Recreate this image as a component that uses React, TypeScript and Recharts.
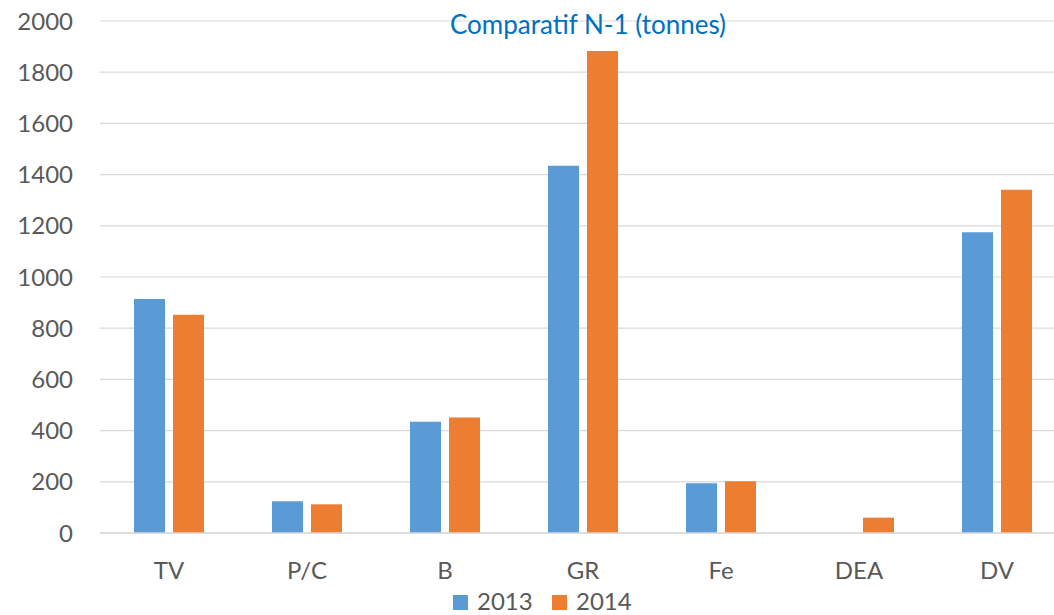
import React from 'react';
import { BarChart, Bar, XAxis, YAxis, CartesianGrid, Legend } from 'recharts';

const categories = ['TV', 'P/C', 'B', 'GR', 'Fe', 'DEA', 'DV'];
const values2013 = [914, 124, 435, 1435, 194, 0, 1175];
const values2014 = [853, 112, 451, 1883, 202, 60, 1341];
const yTicks = [0, 200, 400, 600, 800, 1000, 1200, 1400, 1600, 1800, 2000];
const seriesNames = ['2013', '2014'];
const seriesColors = ['#5B9BD5', '#ED7D31'];
const title = 'Comparatif N-1 (tonnes)';

const data = categories.map((c, i) => ({ name: c, y2013: values2013[i], y2014: values2014[i] }));

const FONT = 'Lato, sans-serif';
const TEXT = '#595959';

const LegendContent = () => (
  <div style={{ position: 'relative', height: 28, width: 1080, fontFamily: FONT }}>
    {seriesNames.map((n, i) => (
      <div
        key={n}
        style={{ position: 'absolute', left: 453 + i * 99, top: -5, height: 28, display: 'flex', alignItems: 'center' }}
      >
        <div style={{ width: 15, height: 15, background: seriesColors[i], marginRight: 9, marginTop: 2 }} />
        <span style={{ fontSize: 24, color: TEXT, lineHeight: '28px' }}>{n}</span>
      </div>
    ))}
  </div>
);

export default function App() {
  return (
    <div style={{ position: 'absolute', left: 0, top: 0, width: 1054, height: 615, overflow: 'hidden', background: '#fff' }}>
      <BarChart
        width={1080}
        height={620}
        data={data}
        margin={{ top: 21, right: 14, left: 0, bottom: 0 }}
        barSize={31}
        barGap={8}
      >
        <CartesianGrid vertical={false} stroke="#D9D9D9" strokeWidth={1.2} />
        <XAxis
          dataKey="name"
          height={59}
          tickLine={false}
          tickSize={0}
          tickMargin={29}
          axisLine={{ stroke: '#D9D9D9', strokeWidth: 1.5 }}
          tick={{ fill: TEXT, fontSize: 24, fontFamily: FONT }}
        />
        <YAxis
          width={100}
          domain={[0, 2000]}
          ticks={yTicks}
          interval={0}
          tickLine={false}
          axisLine={false}
          tickSize={0}
          tickMargin={27}
          tick={{ fill: TEXT, fontSize: 24, fontFamily: FONT }}
        />
        <Legend verticalAlign="bottom" content={<LegendContent />} wrapperStyle={{ left: 0, width: 1080, height: 28 }} />
        <Bar dataKey="y2013" name={seriesNames[0]} fill={seriesColors[0]} isAnimationActive={false} />
        <Bar dataKey="y2014" name={seriesNames[1]} fill={seriesColors[1]} isAnimationActive={false} />
      </BarChart>
      <div
        style={{
          position: 'absolute',
          left: 388,
          width: 400,
          top: 9,
          textAlign: 'center',
          fontFamily: FONT,
          fontSize: 26,
          color: '#0070C0',
          lineHeight: 1.2,
        }}
      >
        {title}
      </div>
    </div>
  );
}
